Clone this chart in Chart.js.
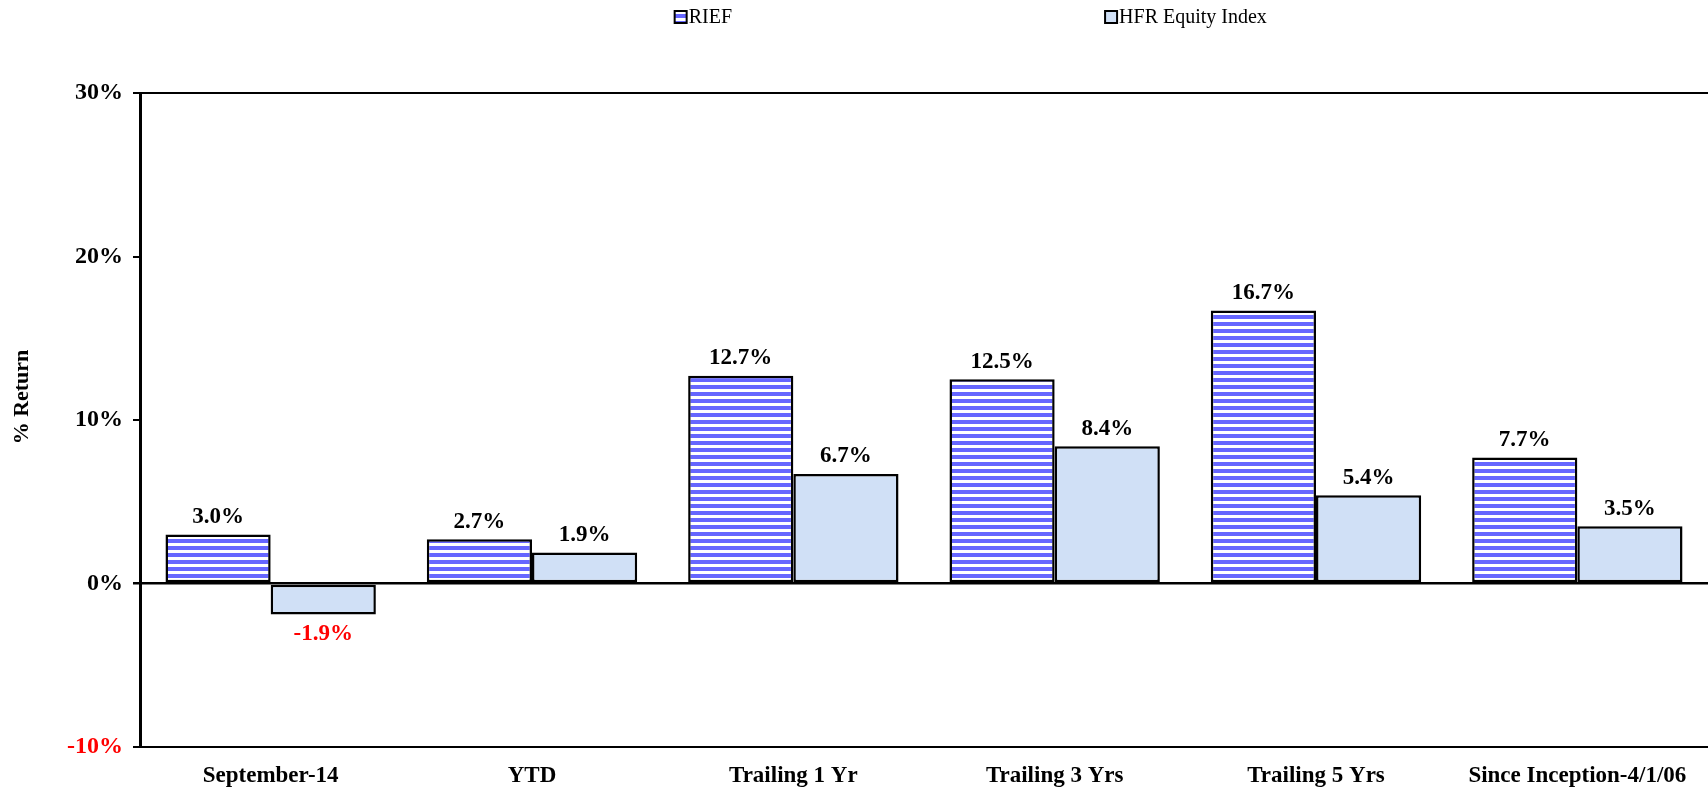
<!DOCTYPE html>
<html>
<head>
<meta charset="utf-8">
<script src="https://cdn.jsdelivr.net/npm/chart.js@4.4.1/dist/chart.umd.min.js"></script>
<style>
  html, body { margin: 0; padding: 0; background: #fff; }
  #wrap { width: 1708px; height: 788px; }
</style>
</head>
<body>
<div id="wrap"><canvas id="c"></canvas></div>
<script>
const categories = ["September-14", "YTD", "Trailing 1 Yr", "Trailing 3 Yrs", "Trailing 5 Yrs", "Since Inception-4/1/06"];
const rief = [3.0, 2.7, 12.7, 12.5, 16.7, 7.7];
const hfr = [-1.9, 1.9, 6.7, 8.4, 5.4, 3.5];
const seriesNames = ["RIEF", "HFR Equity Index"];
const yTicks = [-10, 0, 10, 20, 30];
const yTitle = "% Return";

const FONT = "'Liberation Serif', 'Times New Roman', serif";

function stripes() {
  const p = document.createElement("canvas");
  p.width = 8; p.height = 7;
  const g = p.getContext("2d");
  g.fillStyle = "#ffffff";
  g.fillRect(0, 0, 8, 7);
  g.fillStyle = "#6666ff";
  g.fillRect(0, 0, 8, 4);
  return g.createPattern(p, "repeat");
}
const stripeFill = stripes();
const hfrFill = "#d0e0f6";

const valueLabels = {
  id: "valueLabels",
  afterDatasetsDraw(chart) {
    const ctx = chart.ctx;
    ctx.save();
    ctx.font = "bold 23px " + FONT;
    ctx.textAlign = "center";
    chart.data.datasets.forEach((ds, i) => {
      chart.getDatasetMeta(i).data.forEach((bar, j) => {
        const v = ds.data[j];
        const txt = v.toFixed(1) + "%";
        if (v >= 0) {
          ctx.fillStyle = "#000";
          ctx.textBaseline = "bottom";
          ctx.fillText(txt, bar.x, bar.y - 6);
        } else {
          ctx.fillStyle = "#ff0000";
          ctx.textBaseline = "top";
          ctx.fillText(txt, bar.x, bar.y + 8);
        }
      });
    });
    ctx.restore();
  }
};

// legend and rotated axis title, placed like the original
const extras = {
  id: "extras",
  afterDraw(chart) {
    const ctx = chart.ctx;
    const fills = [stripeFill, hfrFill];
    const xs = [chart.width * 0.395, chart.width * 0.647];
    ctx.save();
    ctx.font = "20px " + FONT;
    ctx.textBaseline = "middle";
    ctx.textAlign = "left";
    seriesNames.forEach((name, i) => {
      const x = xs[i], y = 17;
      ctx.fillStyle = fills[i];
      ctx.fillRect(x, y - 6, 12, 12);
      ctx.strokeStyle = "#000";
      ctx.lineWidth = 2;
      ctx.strokeRect(x, y - 6, 12, 12);
      ctx.fillStyle = "#000";
      ctx.fillText(name, x + 14, y + 1);
    });
    ctx.translate(22, 397);
    ctx.rotate(-Math.PI / 2);
    ctx.textAlign = "center";
    ctx.font = "bold 22px " + FONT;
    ctx.fillText(yTitle, 0, 0);
    ctx.restore();
  }
};

new Chart(document.getElementById("c"), {
  type: "bar",
  data: {
    labels: categories,
    datasets: [
      { label: seriesNames[0], data: rief, backgroundColor: stripeFill, borderColor: "#000", borderWidth: 2.5, borderSkipped: false },
      { label: seriesNames[1], data: hfr, backgroundColor: hfrFill, borderColor: "#000", borderWidth: 2.5, borderSkipped: false }
    ]
  },
  options: {
    responsive: true,
    maintainAspectRatio: false,
    animation: false,
    layout: { padding: { top: 93, right: 0, left: 0, bottom: 0 } },
    datasets: { bar: { categoryPercentage: 0.805, barPercentage: 1.0 } },
    plugins: {
      legend: { display: false },
      tooltip: { enabled: false }
    },
    scales: {
      x: {
        afterFit: axis => { axis.height = 41; },
        grid: { display: false },
        border: { display: false },
        ticks: { color: "#000", font: { family: FONT, size: 23, weight: "bold" }, padding: 7, maxRotation: 0 }
      },
      y: {
        min: -10,
        max: 30,
        z: 1,
        afterBuildTicks: axis => { axis.ticks = yTicks.map(v => ({ value: v })); },
        afterFit: axis => { axis.width = 140; },
        ticks: {
          color: ctx => ctx.tick.value < 0 ? "#ff0000" : "#000",
          font: { family: FONT, size: 24, weight: "bold" },
          padding: 10,
          callback: v => v + "%"
        },
        grid: {
          color: ctx => [30, 0, -10].includes(ctx.tick.value) ? "#000" : "rgba(0,0,0,0)",
          lineWidth: ctx => ctx.tick.value === 0 ? 2.5 : 2,
          tickColor: "#000",
          tickLength: 7
        },
        border: { display: true, color: "#000", width: 3 }
      }
    }
  },
  plugins: [valueLabels, extras]
});
</script>
</body>
</html>
